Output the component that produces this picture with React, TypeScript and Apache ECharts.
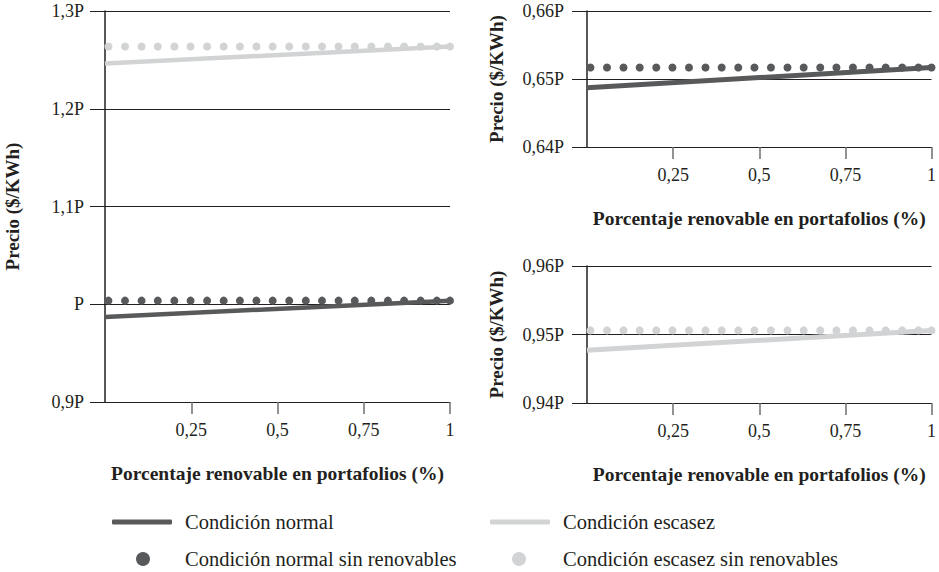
import React, { useEffect, useRef } from 'react';
import * as echarts from 'echarts';

// ---- Data ----
const xLine = [0, 1];
const xDots = [0.01, 0.058, 0.106, 0.153, 0.201, 0.248, 0.296, 0.344, 0.391, 0.439, 0.486, 0.534, 0.582, 0.629, 0.677, 0.724, 0.772, 0.82, 0.867, 0.915, 0.962, 1.0];

const leftScarceLine = [1.2464, 1.2636];
const leftScarceDots = [1.2636, 1.2636, 1.2636, 1.2636, 1.2636, 1.2636, 1.2636, 1.2636, 1.2636, 1.2636, 1.2636, 1.2636, 1.2636, 1.2636, 1.2636, 1.2636, 1.2636, 1.2636, 1.2636, 1.2636, 1.2636, 1.2636];
const leftNormalLine = [0.987, 1.0037];
const leftNormalDots = [1.0037, 1.0037, 1.0037, 1.0037, 1.0037, 1.0037, 1.0037, 1.0037, 1.0037, 1.0037, 1.0037, 1.0037, 1.0037, 1.0037, 1.0037, 1.0037, 1.0037, 1.0037, 1.0037, 1.0037, 1.0037, 1.0037];

const topRightNormalLine = [0.6487, 0.6517];
const topRightNormalDots = [0.6517, 0.6517, 0.6517, 0.6517, 0.6517, 0.6517, 0.6517, 0.6517, 0.6517, 0.6517, 0.6517, 0.6517, 0.6517, 0.6517, 0.6517, 0.6517, 0.6517, 0.6517, 0.6517, 0.6517, 0.6517, 0.6517];

const bottomRightScarceLine = [0.9477, 0.9506];
const bottomRightScarceDots = [0.9506, 0.9506, 0.9506, 0.9506, 0.9506, 0.9506, 0.9506, 0.9506, 0.9506, 0.9506, 0.9506, 0.9506, 0.9506, 0.9506, 0.9506, 0.9506, 0.9506, 0.9506, 0.9506, 0.9506, 0.9506, 0.9506];

const xTickValues = [0.25, 0.5, 0.75, 1];
const xTickLabels = ['0,25', '0,5', '0,75', '1'];

const leftYTicks = [0.9, 1.0, 1.1, 1.2, 1.3];
const leftYLabels = ['0,9P', 'P', '1,1P', '1,2P', '1,3P'];
const topRightYTicks = [0.64, 0.65, 0.66];
const topRightYLabels = ['0,64P', '0,65P', '0,66P'];
const bottomRightYTicks = [0.94, 0.95, 0.96];
const bottomRightYLabels = ['0,94P', '0,95P', '0,96P'];

const NAME_NORMAL = 'Condición normal';
const NAME_SCARCE = 'Condición escasez';
const NAME_NORMAL_DOTS = 'Condición normal sin renovables';
const NAME_SCARCE_DOTS = 'Condición escasez sin renovables';
const X_NAME = 'Porcentaje renovable en portafolios (%)';
const Y_NAME = 'Precio ($/KWh)';

// ---- Styles ----
const FONT = 'Liberation Serif';
const TEXT = '#231f20';
const DARK = '#58595b';
const LIGHT = '#d1d3d4';

function lookup(values: number[], labels: string[]) {
  return (v: number) => {
    let best = -1;
    let bd = Infinity;
    values.forEach((t, i) => {
      const d = Math.abs(t - v);
      if (d < bd) { bd = d; best = i; }
    });
    return bd < 1e-6 ? labels[best] : '';
  };
}

function makeXAxis(gridIndex: number) {
  return {
    type: 'value',
    gridIndex,
    min: 0,
    max: 1,
    interval: 0.25,
    name: X_NAME,
    nameLocation: 'middle',
    nameGap: 60,
    nameTextStyle: { fontFamily: FONT, fontWeight: 'bold', fontSize: 19.5, color: TEXT, lineHeight: 22 },
    axisLine: { show: true, onZero: false, lineStyle: { color: TEXT, width: 1 } },
    axisTick: { show: true, customValues: xTickValues, length: 12, lineStyle: { color: '#6d6e71', width: 1.5 } },
    axisLabel: {
      customValues: xTickValues,
      formatter: lookup(xTickValues, xTickLabels),
      margin: 19,
      fontFamily: FONT,
      fontSize: 18,
      color: TEXT,
    },
    splitLine: { show: false },
  };
}

function makeYAxis(gridIndex: number, ticks: number[], labels: string[], interval: number, labelMargin: number, nameGap: number) {
  return {
    type: 'value',
    gridIndex,
    min: ticks[0],
    max: ticks[ticks.length - 1],
    interval,
    name: Y_NAME,
    nameLocation: 'middle',
    nameGap,
    nameTextStyle: { fontFamily: FONT, fontWeight: 'bold', fontSize: 19, color: TEXT, lineHeight: 22 },
    axisLine: { show: true, lineStyle: { color: TEXT, width: 1.5 } },
    axisTick: { show: true, length: 15, lineStyle: { color: TEXT, width: 1 } },
    axisLabel: {
      formatter: lookup(ticks, labels),
      margin: labelMargin,
      fontFamily: FONT,
      fontSize: 18,
      color: TEXT,
    },
    splitLine: { show: true, lineStyle: { color: TEXT, width: 1 } },
  };
}

function lineSeries(name: string, axis: number, values: number[], color: string, width: number) {
  return {
    type: 'line',
    name,
    xAxisIndex: axis,
    yAxisIndex: axis,
    data: xLine.map((x, i) => [x, values[i]]),
    symbol: 'none',
    showSymbol: false,
    lineStyle: { color, width, cap: 'butt' },
    itemStyle: { color },
    z: 2,
  };
}

function dotSeries(name: string, axis: number, values: number[], color: string) {
  return {
    type: 'scatter',
    name,
    xAxisIndex: axis,
    yAxisIndex: axis,
    data: xDots.map((x, i) => [x, values[i]]),
    symbol: 'circle',
    symbolSize: 8,
    itemStyle: { color, opacity: 1 },
    clip: false,
    z: 3,
  };
}

function legendItem(name: string, color: string, left: number, top: number, icon: string, itemWidth: number, itemHeight: number, textPad: number) {
  return {
    left,
    top,
    orient: 'horizontal',
    icon,
    itemWidth,
    itemHeight,
    selectedMode: false,
    padding: 0,
    data: [{ name, itemStyle: { color, borderWidth: 0, opacity: 1 } }],
    itemStyle: { borderWidth: 0, opacity: 1 },
    textStyle: { fontFamily: FONT, fontSize: 20.5, color: TEXT, lineHeight: 24, padding: [0, 0, 0, textPad] },
  };
}

export default function App() {
  const ref = useRef<HTMLDivElement>(null);

  useEffect(() => {
    if (!ref.current) return;
    const chart = echarts.init(ref.current, undefined, { renderer: 'svg' });
    const option = {
      animation: false,
      backgroundColor: '#ffffff',
      textStyle: { fontFamily: FONT },
      grid: [
        { left: 103, top: 11, width: 347, height: 391, containLabel: false },
        { left: 587, top: 11, width: 346, height: 136, containLabel: false },
        { left: 587, top: 266, width: 346, height: 137, containLabel: false },
      ],
      xAxis: [makeXAxis(0), makeXAxis(1), makeXAxis(2)],
      yAxis: [
        makeYAxis(0, leftYTicks, leftYLabels, 0.1, 21, 82),
        makeYAxis(1, topRightYTicks, topRightYLabels, 0.01, 23, 80),
        makeYAxis(2, bottomRightYTicks, bottomRightYLabels, 0.01, 23, 80),
      ],
      legend: [
        legendItem(NAME_NORMAL, DARK, 112, 510, 'roundRect', 60, 5, 8),
        legendItem(NAME_SCARCE, LIGHT, 490, 510, 'roundRect', 60, 5, 8),
        legendItem(NAME_NORMAL_DOTS, DARK, 136, 547, 'circle', 14, 14, 30),
        legendItem(NAME_SCARCE_DOTS, LIGHT, 512, 547, 'circle', 14, 14, 32),
      ],
      series: [
        lineSeries(NAME_SCARCE, 0, leftScarceLine, LIGHT, 4.5),
        dotSeries(NAME_SCARCE_DOTS, 0, leftScarceDots, LIGHT),
        lineSeries(NAME_NORMAL, 0, leftNormalLine, DARK, 4.5),
        dotSeries(NAME_NORMAL_DOTS, 0, leftNormalDots, DARK),
        lineSeries(NAME_NORMAL, 1, topRightNormalLine, DARK, 5),
        dotSeries(NAME_NORMAL_DOTS, 1, topRightNormalDots, DARK),
        lineSeries(NAME_SCARCE, 2, bottomRightScarceLine, LIGHT, 5),
        dotSeries(NAME_SCARCE_DOTS, 2, bottomRightScarceDots, LIGHT),
      ],
    };
    chart.setOption(option as any);
    return () => chart.dispose();
  }, []);

  return (
    <div
      ref={ref}
      style={{ position: 'fixed', left: 0, top: 0, width: 939, height: 572, background: '#fff' }}
    />
  );
}
